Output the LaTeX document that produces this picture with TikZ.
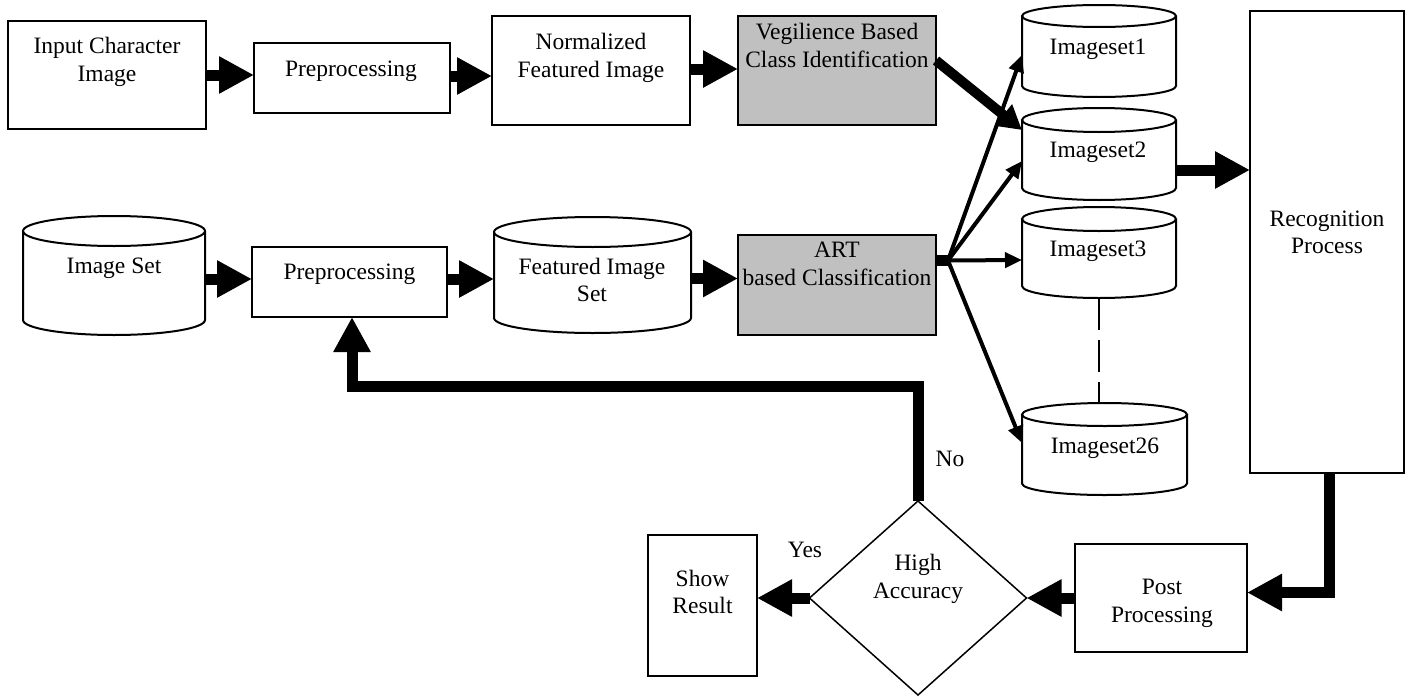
\documentclass[tikz,border=0pt]{standalone}
\usepackage{fontspec}
\setmainfont{Liberation Serif}
\usetikzlibrary{arrows.meta,shapes.geometric}
\definecolor{boxgray}{HTML}{C0C0C0}

\tikzset{
  box/.style={draw, line width=2pt, inner sep=0pt, outer sep=0pt},
  txt/.style={inner sep=0pt, outer sep=0pt, align=center,
              font=\fontsize{23.5pt}{27.5pt}\selectfont},
  store/.style={inner sep=0pt, outer sep=0pt},
  outline/.style={line width=2pt},
  fat/.style={line width=11pt, -{Triangle[length=35pt,width=35pt]}},
  thinarrow/.style={line width=4pt, -{Triangle[length=17pt,width=15pt]}},
}

% database drum: name, left, top, right, bottom, half-height of the lid
\newcommand\dbnode[6]{%
  \node[store, minimum width={(#4-#2)*1pt}, minimum height={(#5-#3)*1pt}]
    (#1) at ({(#2+#4)/2},{(#3+#5)/2}) {};
  \draw[outline] (#2,#3+#6) -- (#2,#5-#6)
    arc[start angle=180, end angle=360, x radius={(#4-#2)/2*1pt}, y radius=#6pt]
    -- (#4,#3+#6);
  \draw[outline] ({(#2+#4)/2},#3+#6) ellipse[x radius={(#4-#2)/2*1pt}, y radius=#6pt];
}

\begin{document}
\begin{tikzpicture}[x=1pt, y=-1pt]
\useasboundingbox (0,0) rectangle (1410,696);

% ---- upper row
\node[box, minimum width=198pt, minimum height=108pt] (inp) at (107,75) {};
\node[txt] at (107,62) {Input Character\\Image};
\node[box, minimum width=196pt, minimum height=70pt] (pre1) at (352,78) {};
\node[txt] at (351,71.5) {Preprocessing};
\node[box, minimum width=198pt, minimum height=109pt] (norm) at (591,70.5) {};
\node[txt] at (591,58) {Normalized\\Featured Image};
\node[box, fill=boxgray, minimum width=198pt, minimum height=109pt] (veg) at (837,70.5) {};
\node[txt] at (837,45.5) {Vegilience Based\\Class Identification};

% ---- lower row
\dbnode{imgset}{23}{216}{205}{335}{15}
\node[txt] at (114,268.75) {Image Set};
\node[box, minimum width=195pt, minimum height=70pt] (pre2) at (349.5,282) {};
\node[txt] at (349.5,274.5) {Preprocessing};
\dbnode{fis}{494}{217}{691}{333}{15}
\node[txt] at (592,280) {Featured Image\\Set};
\node[box, fill=boxgray, minimum width=198pt, minimum height=100pt] (art) at (837,285) {};
\node[txt] at (837,264) {ART\\based Classification};

% ---- class image sets
\dbnode{s1}{1022}{5}{1176}{97}{11}
\node[txt] at (1098,49.6) {Imageset1};
\dbnode{s2}{1022}{108}{1176}{200}{12}
\node[txt] at (1098,152.6) {Imageset2};
\dbnode{s3}{1022}{207}{1176}{298}{12}
\node[txt] at (1098,251.6) {Imageset3};
\dbnode{s26}{1022}{403}{1187}{495}{11.5}
\node[txt] at (1105,448.6) {Imageset26};

% ---- recognition and decision
\node[box, minimum width=154pt, minimum height=462pt] (rec) at (1327,242) {};
\node[txt] at (1327,232.5) {Recognition\\Process};
\node[box, minimum width=172pt, minimum height=108pt] (post) at (1161,598) {};
\node[txt] at (1162,603.5) {Post\\Processing};
\node[draw, diamond, line width=1.5pt, minimum width=217pt, minimum height=194pt,
      inner sep=0pt, outer sep=0pt] (dia) at (918,598) {};
\node[txt] at (918,579) {High\\Accuracy};
\node[box, minimum width=109pt, minimum height=141pt] (show) at (702.5,605.5) {};
\node[txt] at (702.5,592) {Show\\Result};
\node[txt] at (950,459) {No};
\node[txt] at (805,550) {Yes};

% ---- block arrows along the rows
\draw[fat] (inp.east) -- (inp.east -| pre1.west);
\draw[fat] ([yshift=2pt]pre1.east) -- ([yshift=2pt]pre1.east -| norm.west);
\draw[fat] ([yshift=1.5pt]norm.east) -- ([yshift=1.5pt]norm.east -| veg.west);
\draw[fat] ([yshift=-3.5pt]imgset.east) -- ([yshift=-3.5pt]imgset.east -| pre2.west);
\draw[fat] ([yshift=3pt]pre2.east) -- ([yshift=3pt]pre2.east -| fis.west);
\draw[fat] ([yshift=-3.5pt]fis.east) -- ([yshift=-3.5pt]fis.east -| art.west);
\draw[fat] ([yshift=-16pt]s2.east) -- ([yshift=-16pt]s2.east -| rec.west);

% ---- identification result into its class
\draw[line width=10pt, -{Triangle[length=24pt,width=26pt]}]
  ([yshift=10pt]veg.east) -- ([yshift=-22pt]s2.north west);

% ---- classification fan-out
\coordinate (fan) at (948,260.5);
\draw[line width=11pt] ([yshift=24.5pt]art.east) -- ([xshift=2pt]fan);
\draw[thinarrow] (fan) -- ([yshift=-4pt]s1.west);
\draw[thinarrow] (fan) -- ([yshift=-7pt]s2.west);
\draw[thinarrow] (fan) -- ([yshift=-7.5pt]s3.west);
\draw[thinarrow] (fan) -- ([yshift=6pt]s26.west);
\draw[line width=1.5pt, dash pattern=on 32pt off 10pt] (s3.south) -- (s3.south |- s26.north);

% ---- recognition, post processing and feedback
\draw[fat] ([xshift=2pt]rec.south) |- ([yshift=5.5pt]post.east);
\draw[fat] (post.west) -- (dia.east);
\draw[fat] (dia.west) -- (dia.west -| show.east);
\coordinate (fbturn) at (352,386);
\draw[fat] (dia.north) |- (fbturn) -- ([xshift=2.5pt]pre2.south);
\end{tikzpicture}
\end{document}
